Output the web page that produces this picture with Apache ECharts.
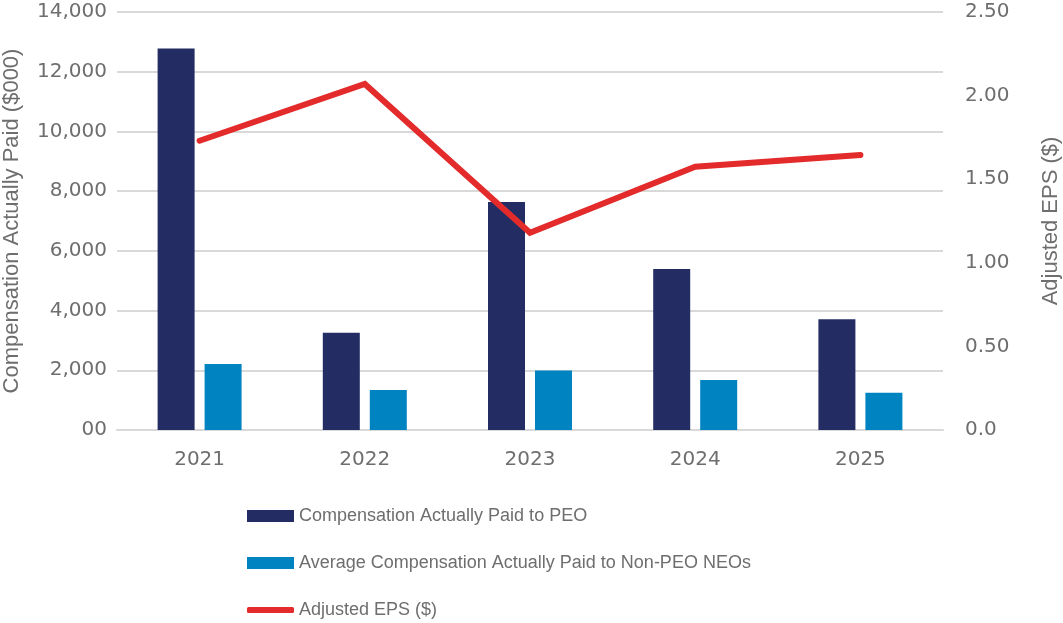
<!DOCTYPE html>
<html>
<head>
<meta charset="utf-8">
<script src="https://cdn.jsdelivr.net/npm/echarts@6/dist/echarts.min.js"></script>
<style>html,body{margin:0;padding:0;background:#fff;}#c{width:1063px;height:623px;}</style>
</head>
<body>
<div id="c"></div>
<script>
const years = ['2021', '2022', '2023', '2024', '2025'];
const peoCAP = [12780, 3260, 7640, 5390, 3710];
const neoCAP = [2210, 1340, 1990, 1675, 1250];
const adjEPS = [1.73, 2.07, 1.18, 1.575, 1.645];
const leftTicks = { min: 0, max: 14000, interval: 2000 };
const rightTicks = { min: 0, max: 2.5, interval: 0.5 };

const gray = '#6e6e6e';
const font = 'DejaVu Sans';
const font2 = 'Liberation Sans';
const names = ['Compensation Actually Paid to PEO', 'Average Compensation Actually Paid to Non-PEO NEOs', 'Adjusted EPS ($)'];

const legText = { color: gray, fontSize: 18, fontFamily: font2, lineHeight: 20 };
const chart = echarts.init(document.getElementById('c'));
chart.setOption({
  animation: false,
  textStyle: { fontFamily: font },
  grid: { left: 117, right: 120, top: 12, bottom: 193, containLabel: false, outerBoundsMode: 'none' },
  legend: [
    { data: [names[0]], left: 247, top: 506, padding: 0, itemWidth: 47, itemHeight: 12, itemGap: 5, icon: 'rect', textStyle: legText },
    { data: [names[1]], left: 247, top: 553, padding: 0, itemWidth: 47, itemHeight: 12, itemGap: 5, icon: 'rect', textStyle: legText },
    { data: [names[2]], left: 247, top: 600, padding: 0, itemWidth: 47, itemHeight: 6, itemGap: 5, icon: 'roundRect', textStyle: legText }
  ],
  xAxis: {
    type: 'category', data: years,
    axisLine: { lineStyle: { color: '#d9d9d9', width: 2 } },
    axisTick: { show: false },
    axisLabel: { color: gray, fontSize: 20, margin: 20, fontFamily: font }
  },
  yAxis: [
    { type: 'value', min: leftTicks.min, max: leftTicks.max, interval: leftTicks.interval,
      name: 'Compensation Actually Paid ($000)', nameLocation: 'middle', nameRotate: 90, nameGap: 94,
      nameTextStyle: { color: gray, fontSize: 22, fontFamily: font2 },
      axisLine: { show: false }, axisTick: { show: false },
      axisLabel: { color: gray, fontSize: 20, margin: 10, fontFamily: font,
        formatter: v => v === 0 ? '00' : v.toLocaleString('en-US') },
      splitLine: { lineStyle: { color: '#d9d9d9', width: 2 } } },
    { type: 'value', min: rightTicks.min, max: rightTicks.max, interval: rightTicks.interval,
      name: 'Adjusted EPS ($)', nameLocation: 'middle', nameRotate: 90, nameGap: 97,
      nameTextStyle: { color: gray, fontSize: 22, fontFamily: font2 },
      axisLine: { show: false }, axisTick: { show: false },
      axisLabel: { color: gray, fontSize: 20, margin: 22, fontFamily: font,
        formatter: v => v === 0 ? '0.0' : v.toFixed(2) },
      splitLine: { show: false } }
  ],
  series: [
    { name: names[0], type: 'bar', data: peoCAP, barWidth: 37, barGap: '27%', itemStyle: { color: '#232c63' } },
    { name: names[1], type: 'bar', data: neoCAP, barWidth: 37, itemStyle: { color: '#0083c1' } },
    { name: names[2], type: 'line', yAxisIndex: 1, data: adjEPS, symbol: 'none',
      lineStyle: { color: '#e32b2b', width: 6, cap: 'round', join: 'miter' }, itemStyle: { color: '#e32b2b' } }
  ]
});
</script>
</body>
</html>
